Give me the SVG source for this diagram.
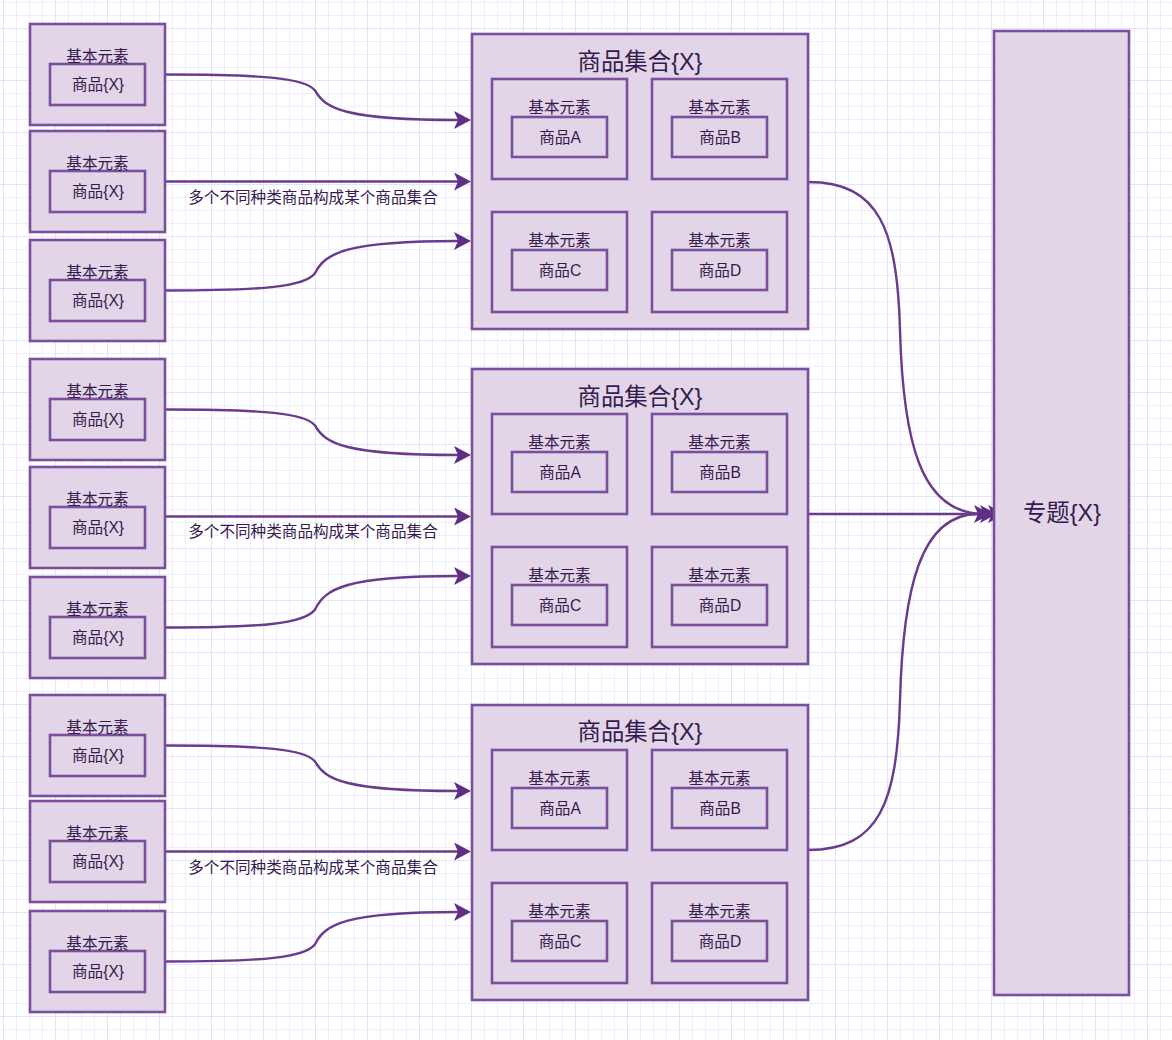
<svg xmlns="http://www.w3.org/2000/svg" width="1172" height="1040" viewBox="0 0 1172 1040">
<style>
.box{fill:#e1d5e7;stroke:#7a509e;stroke-width:2.6}
.t{font-family:"Liberation Sans","Noto Sans CJK SC",sans-serif;fill:#36194e;text-anchor:middle;dominant-baseline:central}
.s{font-size:15.6px}
.b{font-size:23.4px}
.e{fill:none;stroke:#6a3b8c;stroke-width:2.4}
</style>
<defs>
<pattern id="grid" width="52" height="52" patternUnits="userSpaceOnUse" x="3" y="28">
<rect width="52" height="52" fill="#ffffff"/>
<g fill="#efedff">
<rect x="13" y="0" width="1" height="52"/><rect x="26" y="0" width="1" height="52"/><rect x="39" y="0" width="1" height="52"/>
<rect x="0" y="13" width="52" height="1"/><rect x="0" y="26" width="52" height="1"/><rect x="0" y="39" width="52" height="1"/>
</g>
<g fill="#e5e2fb">
<rect x="0" y="0" width="1" height="52"/><rect x="0" y="0" width="52" height="1"/>
</g>
</pattern>
<marker id="arr" viewBox="0 0 17 18" refX="4" refY="9" markerWidth="17" markerHeight="18" markerUnits="userSpaceOnUse" orient="auto">
<path d="M0,0 L17,9 L0,18 L4,9 Z" fill="#5e2f85"/>
</marker>
</defs>
<rect width="1172" height="1040" fill="url(#grid)"/>

<g id="connectors">
<path class="e" marker-end="url(#arr)" d="M165,74.5 C265,74.5 305,78.1 315,90.4 C325,108.6 345,120 458,120"/>
<path class="e" marker-end="url(#arr)" d="M165,181.5 L458,181.5"/>
<path class="e" marker-end="url(#arr)" d="M165,290.5 C265,290.5 305,286.5 315,273.2 C325,253.4 345,241 458,241"/>
<text class="t s" x="313" y="197">多个不同种类商品构成某个商品集合</text>

<path class="e" marker-end="url(#arr)" d="M165,409.5 C265,409.5 305,413.1 315,425.4 C325,443.6 345,455 458,455"/>
<path class="e" marker-end="url(#arr)" d="M165,516.5 L458,516.5"/>
<path class="e" marker-end="url(#arr)" d="M165,627.5 C265,627.5 305,623.4 315,609.5 C325,588.9 345,576 458,576"/>
<text class="t s" x="313" y="531">多个不同种类商品构成某个商品集合</text>

<path class="e" marker-end="url(#arr)" d="M165,745.5 C265,745.5 305,749.1 315,761.4 C325,779.6 345,791 458,791"/>
<path class="e" marker-end="url(#arr)" d="M165,851.5 L458,851.5"/>
<path class="e" marker-end="url(#arr)" d="M165,961.5 C265,961.5 305,957.5 315,944.2 C325,924.4 345,912 458,912"/>
<text class="t s" x="313" y="867">多个不同种类商品构成某个商品集合</text>

<path class="e" marker-end="url(#arr)" d="M808,182 C880,182 897,230 900,330 C903,440 920,514 984,514"/>
<path class="e" marker-end="url(#arr)" d="M808,514 L992,514"/>
<path class="e" marker-end="url(#arr)" d="M808,850 C880,850 897,802 900,700 C903,590 920,514 978,514"/>
</g>

<g id="elem1"><rect class="box" x="30" y="24" width="135" height="101"/><rect class="box" x="50" y="64" width="95" height="41"/><text class="t s" x="97.5" y="56">基本元素</text><text class="t s" x="98" y="84.5">商品{X}</text></g>
<g id="elem2"><rect class="box" x="30" y="131" width="135" height="101"/><rect class="box" x="50" y="171" width="95" height="41"/><text class="t s" x="97.5" y="163">基本元素</text><text class="t s" x="98" y="191.5">商品{X}</text></g>
<g id="elem3"><rect class="box" x="30" y="240" width="135" height="101"/><rect class="box" x="50" y="280" width="95" height="41"/><text class="t s" x="97.5" y="272">基本元素</text><text class="t s" x="98" y="300.5">商品{X}</text></g>
<g id="elem4"><rect class="box" x="30" y="359" width="135" height="101"/><rect class="box" x="50" y="399" width="95" height="41"/><text class="t s" x="97.5" y="391">基本元素</text><text class="t s" x="98" y="419.5">商品{X}</text></g>
<g id="elem5"><rect class="box" x="30" y="467" width="135" height="101"/><rect class="box" x="50" y="507" width="95" height="41"/><text class="t s" x="97.5" y="499">基本元素</text><text class="t s" x="98" y="527.5">商品{X}</text></g>
<g id="elem6"><rect class="box" x="30" y="577" width="135" height="101"/><rect class="box" x="50" y="617" width="95" height="41"/><text class="t s" x="97.5" y="609">基本元素</text><text class="t s" x="98" y="637.5">商品{X}</text></g>
<g id="elem7"><rect class="box" x="30" y="695" width="135" height="101"/><rect class="box" x="50" y="735" width="95" height="41"/><text class="t s" x="97.5" y="727">基本元素</text><text class="t s" x="98" y="755.5">商品{X}</text></g>
<g id="elem8"><rect class="box" x="30" y="801" width="135" height="101"/><rect class="box" x="50" y="841" width="95" height="41"/><text class="t s" x="97.5" y="833">基本元素</text><text class="t s" x="98" y="861.5">商品{X}</text></g>
<g id="elem9"><rect class="box" x="30" y="911" width="135" height="101"/><rect class="box" x="50" y="951" width="95" height="41"/><text class="t s" x="97.5" y="943">基本元素</text><text class="t s" x="98" y="971.5">商品{X}</text></g>

<g id="set1">
<rect class="box" x="472" y="34" width="336" height="295"/>
<text class="t b" x="640" y="62">商品集合{X}</text>
<rect class="box" x="492" y="79" width="135" height="100"/><rect class="box" x="512" y="117" width="95" height="40"/><text class="t s" x="559.5" y="107">基本元素</text><text class="t s" x="560" y="137.5">商品A</text>
<rect class="box" x="652" y="79" width="135" height="100"/><rect class="box" x="672" y="117" width="95" height="40"/><text class="t s" x="719.5" y="107">基本元素</text><text class="t s" x="720" y="137.5">商品B</text>
<rect class="box" x="492" y="212" width="135" height="100"/><rect class="box" x="512" y="250" width="95" height="40"/><text class="t s" x="559.5" y="240">基本元素</text><text class="t s" x="560" y="270.5">商品C</text>
<rect class="box" x="652" y="212" width="135" height="100"/><rect class="box" x="672" y="250" width="95" height="40"/><text class="t s" x="719.5" y="240">基本元素</text><text class="t s" x="720" y="270.5">商品D</text>
</g>
<g id="set2">
<rect class="box" x="472" y="369" width="336" height="295"/>
<text class="t b" x="640" y="397">商品集合{X}</text>
<rect class="box" x="492" y="414" width="135" height="100"/><rect class="box" x="512" y="452" width="95" height="40"/><text class="t s" x="559.5" y="442">基本元素</text><text class="t s" x="560" y="472.5">商品A</text>
<rect class="box" x="652" y="414" width="135" height="100"/><rect class="box" x="672" y="452" width="95" height="40"/><text class="t s" x="719.5" y="442">基本元素</text><text class="t s" x="720" y="472.5">商品B</text>
<rect class="box" x="492" y="547" width="135" height="100"/><rect class="box" x="512" y="585" width="95" height="40"/><text class="t s" x="559.5" y="575">基本元素</text><text class="t s" x="560" y="605.5">商品C</text>
<rect class="box" x="652" y="547" width="135" height="100"/><rect class="box" x="672" y="585" width="95" height="40"/><text class="t s" x="719.5" y="575">基本元素</text><text class="t s" x="720" y="605.5">商品D</text>
</g>
<g id="set3">
<rect class="box" x="472" y="705" width="336" height="295"/>
<text class="t b" x="640" y="732">商品集合{X}</text>
<rect class="box" x="492" y="750" width="135" height="100"/><rect class="box" x="512" y="788" width="95" height="40"/><text class="t s" x="559.5" y="778">基本元素</text><text class="t s" x="560" y="808.5">商品A</text>
<rect class="box" x="652" y="750" width="135" height="100"/><rect class="box" x="672" y="788" width="95" height="40"/><text class="t s" x="719.5" y="778">基本元素</text><text class="t s" x="720" y="808.5">商品B</text>
<rect class="box" x="492" y="883" width="135" height="100"/><rect class="box" x="512" y="921" width="95" height="40"/><text class="t s" x="559.5" y="911">基本元素</text><text class="t s" x="560" y="941.5">商品C</text>
<rect class="box" x="652" y="883" width="135" height="100"/><rect class="box" x="672" y="921" width="95" height="40"/><text class="t s" x="719.5" y="911">基本元素</text><text class="t s" x="720" y="941.5">商品D</text>
</g>

<g id="topic">
<rect class="box" x="994" y="31" width="135" height="964"/>
<text class="t b" x="1062" y="513">专题{X}</text>
</g>
</svg>
